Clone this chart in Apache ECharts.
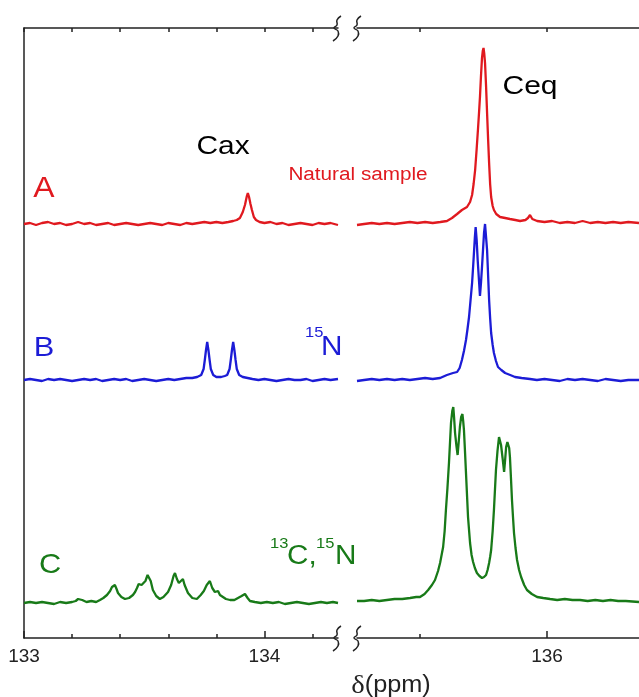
<!DOCTYPE html>
<html>
<head>
<meta charset="utf-8">
<title>NMR spectra</title>
<script src="https://cdn.jsdelivr.net/npm/echarts@6/dist/echarts.min.js"></script>
<style>
  html, body { margin: 0; padding: 0; background: #fff; }
  #chart { width: 639px; height: 697px; }
</style>
</head>
<body>
<div id="chart"></div>
<script>
// spectra as [ppm, intensity above own baseline]
var traceA_left = [[133.000,0],[133.025,1],[133.050,-1],[133.075,1],[133.100,2],[133.125,0],[133.150,1],[133.175,-1],[133.200,0],[133.225,2],[133.250,0],[133.275,1],[133.300,-1],[133.325,0],[133.350,1],[133.375,-1],[133.400,0],[133.425,1],[133.450,0],[133.475,-1],[133.500,0],[133.525,1],[133.550,0],[133.575,-1],[133.600,1],[133.625,0],[133.650,-1],[133.675,1],[133.700,0],[133.725,1],[133.750,2],[133.775,1],[133.800,2],[133.825,1],[133.850,2],[133.870,3],[133.885,4],[133.898,6],[133.910,12],[133.919,19],[133.927,28],[133.931,31],[133.936,27],[133.942,20],[133.948,14],[133.956,7],[133.965,4],[133.980,2],[134.000,1],[134.025,2],[134.050,0],[134.075,1],[134.100,-1],[134.125,0],[134.150,1],[134.175,0],[134.200,-1],[134.225,1],[134.250,0],[134.275,1],[134.306,-1]];
var traceA_right = [[135.252,-1],[135.28,0],[135.31,1],[135.34,0],[135.37,1],[135.40,0],[135.43,1],[135.46,2],[135.49,1],[135.52,2],[135.55,1],[135.58,2],[135.606,3],[135.626,6],[135.646,10],[135.665,14],[135.685,17],[135.697,22],[135.705,29],[135.711,40],[135.717,54],[135.723,75],[135.728,94],[135.732,110],[135.736,127],[135.740,148],[135.744,166],[135.747,173],[135.750,176],[135.753,170],[135.756,161],[135.760,138],[135.764,111],[135.768,85],[135.772,61],[135.776,40],[135.780,27],[135.786,18],[135.791,14],[135.800,10],[135.815,7],[135.835,6],[135.854,5],[135.875,4],[135.894,3],[135.915,4],[135.925,6],[135.933,9],[135.942,5],[135.961,3],[135.99,2],[136.02,3],[136.05,1],[136.08,2],[136.11,1],[136.14,3],[136.17,1],[136.20,2],[136.23,1],[136.26,2],[136.29,1],[136.32,2],[136.362,1]];
var traceB_left = [[133.000,0],[133.025,1],[133.050,0],[133.075,-1],[133.100,1],[133.125,0],[133.150,1],[133.175,0],[133.200,-1],[133.225,0],[133.250,1],[133.275,0],[133.300,1],[133.325,-1],[133.350,0],[133.375,1],[133.400,0],[133.425,1],[133.450,-1],[133.475,0],[133.500,1],[133.525,0],[133.550,-1],[133.575,0],[133.600,1],[133.625,0],[133.650,1],[133.675,2],[133.700,2],[133.720,3],[133.737,5],[133.747,11],[133.752,20],[133.757,30],[133.762,38],[133.767,30],[133.772,20],[133.777,11],[133.787,5],[133.800,3],[133.820,3],[133.835,4],[133.845,5],[133.855,11],[133.860,20],[133.865,30],[133.870,38],[133.875,30],[133.880,20],[133.885,11],[133.895,5],[133.910,3],[133.930,2],[133.950,1],[133.975,0],[134.000,1],[134.025,0],[134.050,-1],[134.075,0],[134.100,1],[134.125,0],[134.150,0],[134.175,1],[134.200,-1],[134.225,0],[134.250,1],[134.275,0],[134.306,1]];
var traceB_right = [[135.252,-1],[135.28,0],[135.31,1],[135.34,0],[135.37,1],[135.40,0],[135.43,1],[135.46,0],[135.49,1],[135.52,2],[135.55,1],[135.579,2],[135.606,5],[135.630,7],[135.646,8],[135.656,12],[135.665,20],[135.673,29],[135.681,40],[135.687,51],[135.693,63],[135.699,80],[135.705,97],[135.709,113],[135.713,130],[135.716,143],[135.719,153],[135.723,140],[135.727,120],[135.732,100],[135.736,84],[135.740,97],[135.744,113],[135.748,130],[135.752,147],[135.756,156],[135.760,143],[135.764,130],[135.768,105],[135.772,80],[135.776,62],[135.780,47],[135.786,35],[135.791,27],[135.799,19],[135.807,13],[135.820,10],[135.835,7],[135.855,5],[135.874,3],[135.90,2],[135.933,1],[135.96,0],[135.99,1],[136.02,0],[136.05,-1],[136.08,1],[136.11,0],[136.14,1],[136.17,0],[136.20,-1],[136.23,1],[136.26,0],[136.29,-1],[136.32,0],[136.362,0]];
var traceC_left = [[133.000,0],[133.025,1],[133.050,0],[133.075,1],[133.100,0],[133.125,-1],[133.150,1],[133.175,0],[133.200,1],[133.215,2],[133.225,4],[133.233,6],[133.242,3],[133.260,1],[133.280,2],[133.300,1],[133.316,3],[133.330,5],[133.345,8],[133.358,12],[133.366,16],[133.372,18],[133.378,18],[133.385,14],[133.391,10],[133.405,6],[133.420,4],[133.437,5],[133.453,8],[133.462,11],[133.470,15],[133.477,19],[133.482,21],[133.489,18],[133.495,16],[133.505,22],[133.514,28],[133.520,30],[133.527,22],[133.536,13],[133.550,7],[133.565,4],[133.580,6],[133.599,11],[133.612,18],[133.622,27],[133.628,30],[133.636,24],[133.644,20],[133.652,22],[133.661,24],[133.668,18],[133.682,10],[133.700,5],[133.719,4],[133.735,8],[133.748,12],[133.760,18],[133.773,22],[133.783,15],[133.794,11],[133.801,11],[133.807,12],[133.815,8],[133.823,6],[133.840,4],[133.857,3],[133.875,3],[133.890,5],[133.905,7],[133.919,9],[133.930,5],[133.940,2],[133.960,1],[133.985,0],[134.010,1],[134.035,0],[134.060,1],[134.085,-1],[134.110,0],[134.135,1],[134.160,0],[134.185,-1],[134.210,0],[134.235,1],[134.260,0],[134.285,1],[134.306,0]];
var traceC_right = [[135.252,2],[135.28,2],[135.31,3],[135.34,2],[135.37,3],[135.40,4],[135.43,4],[135.461,5],[135.485,6],[135.500,6],[135.518,9],[135.532,13],[135.547,18],[135.559,23],[135.571,32],[135.579,40],[135.591,56],[135.597,72],[135.602,93],[135.608,115],[135.614,140],[135.618,160],[135.622,180],[135.627,192],[135.631,196],[135.634,186],[135.638,170],[135.643,158],[135.648,148],[135.652,160],[135.657,176],[135.662,186],[135.667,189],[135.670,182],[135.673,173],[135.677,152],[135.681,130],[135.685,108],[135.689,86],[135.697,60],[135.703,48],[135.709,41],[135.716,35],[135.724,30],[135.734,27],[135.744,25],[135.752,26],[135.760,28],[135.766,33],[135.772,40],[135.776,46],[135.780,53],[135.786,72],[135.791,93],[135.795,113],[135.799,133],[135.805,152],[135.811,166],[135.815,162],[135.819,158],[135.825,145],[135.831,131],[135.835,143],[135.839,156],[135.844,161],[135.848,162],[135.851,155],[135.854,146],[135.858,125],[135.862,103],[135.866,86],[135.870,70],[135.876,55],[135.882,43],[135.890,33],[135.898,26],[135.910,18],[135.921,13],[135.940,9],[135.961,6],[135.985,5],[136.012,4],[136.04,3],[136.07,4],[136.10,3],[136.13,3],[136.16,2],[136.19,3],[136.22,2],[136.25,3],[136.28,2],[136.31,2],[136.362,1]];

// vertical stacking offsets of the three spectra
var offsetA = 414, offsetB = 258, offsetC = 35;

var leftTicksMajor = [133, 134];
var leftTicksMinor = [133.2, 133.4, 133.6, 133.8, 134.2];
var rightTicksMajor = [136];
var rightTicksMinor = [135.5];

var red = '#e0191f', blue = '#1c1cd6', green = '#187a18', ink = '#222';

function shift(arr, off) {
    return arr.map(function (p) { return [p[0], p[1] + off]; });
}

var chart = echarts.init(document.getElementById('chart'));

var lineStyleAxis = { color: ink, width: 1.5 };

function xAx(grid, min, max, pos, ticks, len, showLine, labels) {
    return {
        type: 'value', gridIndex: grid, min: min, max: max, position: pos,
        axisLine: { show: showLine, onZero: false, lineStyle: lineStyleAxis },
        axisTick: { show: true, inside: true, length: len, customValues: ticks, lineStyle: lineStyleAxis },
        axisLabel: labels ? {
            show: true, customValues: labels, margin: 9, color: ink, fontSize: 19,
            fontFamily: 'Liberation Sans, Arial, sans-serif'
        } : { show: false },
        splitLine: { show: false }
    };
}

function spec(data, off, color, xi, yi) {
    return {
        type: 'line', data: shift(data, off), xAxisIndex: xi, yAxisIndex: yi,
        showSymbol: false, symbol: 'none', smooth: false, silent: true,
        lineStyle: { color: color, width: 2.3 }
    };
}

function txt(t, x, y, size, color, sx, align) {
    return {
        type: 'text', x: x, y: y, scaleX: sx || 1, z: 100,
        style: {
            text: t, fill: color, fontSize: size,
            fontFamily: 'Liberation Sans, Arial, sans-serif',
            textAlign: align || 'center', textVerticalAlign: 'middle'
        }
    };
}

// axis-break mark
function squiggle(x, yc) {
    return {
        type: 'polyline', z: 100,
        shape: {
            points: [[x + 4, yc - 12], [x, yc - 8], [x, yc - 3], [x - 3, yc], [x + 1, yc + 3], [x + 1, yc + 8], [x - 4, yc + 13]],
            smooth: 0.5
        },
        style: { stroke: ink, lineWidth: 1.5, fill: null }
    };
}

var option = {
    animation: false,
    backgroundColor: '#fff',
    grid: [
        { left: 24, top: 28, width: 314, height: 610 },
        { left: 357, top: 28, width: 282, height: 610 }
    ],
    xAxis: [
        xAx(0, 133, 134.306, 'bottom', leftTicksMajor, 7, true, leftTicksMajor),
        xAx(0, 133, 134.306, 'bottom', leftTicksMinor, 4, false, null),
        xAx(0, 133, 134.306, 'top', leftTicksMajor.concat(leftTicksMinor), 4, true, null),
        xAx(1, 135.252, 136.362, 'bottom', rightTicksMajor, 7, true, rightTicksMajor),
        xAx(1, 135.252, 136.362, 'bottom', rightTicksMinor, 4, false, null),
        xAx(1, 135.252, 136.362, 'top', rightTicksMajor.concat(rightTicksMinor), 4, true, null)
    ],
    yAxis: [
        { type: 'value', gridIndex: 0, min: 0, max: 610, axisLine: { show: true, lineStyle: lineStyleAxis },
          axisTick: { show: false }, axisLabel: { show: false }, splitLine: { show: false } },
        { type: 'value', gridIndex: 1, min: 0, max: 610, show: false, splitLine: { show: false } }
    ],
    series: [
        spec(traceA_left, offsetA, red, 0, 0),
        spec(traceA_right, offsetA, red, 3, 1),
        spec(traceB_left, offsetB, blue, 0, 0),
        spec(traceB_right, offsetB, blue, 3, 1),
        spec(traceC_left, offsetC, green, 0, 0),
        spec(traceC_right, offsetC, green, 3, 1)
    ],
    graphic: [
        squiggle(337, 638), squiggle(357, 638),
        squiggle(337, 28), squiggle(357, 28),
        txt('A', 44, 189, 29, red, 1.1),
        txt('B', 44, 348, 28, blue, 1.1),
        txt('C', 50, 565, 28, green, 1.1),
        txt('Cax', 223, 147, 26, '#000', 1.15),
        txt('Natural sample', 358, 175, 18, red, 1.15),
        txt('Ceq', 530, 87, 25, '#000', 1.2),
        txt('15', 305, 333, 15, blue, 1.1, 'left'),
        txt('N', 321, 348, 27, blue, 1.1, 'left'),
        txt('13', 270, 544, 15, green, 1.1, 'left'),
        txt('C,', 287, 557, 27, green, 1.1, 'left'),
        txt('15', 316, 544, 15, green, 1.1, 'left'),
        txt('N', 335, 557, 27, green, 1.1, 'left'),
        {
            type: 'text', x: 391, y: 686, scaleX: 1.1, z: 100,
            style: {
                text: '{d|δ}{p|(ppm)}', textAlign: 'center', textVerticalAlign: 'middle',
                rich: {
                    d: { fontFamily: 'Liberation Serif, Times New Roman, serif', fontSize: 26, fill: ink },
                    p: { fontFamily: 'Liberation Sans, Arial, sans-serif', fontSize: 23, fill: ink }
                }
            }
        }
    ]
};

chart.setOption(option);
</script>
</body>
</html>
